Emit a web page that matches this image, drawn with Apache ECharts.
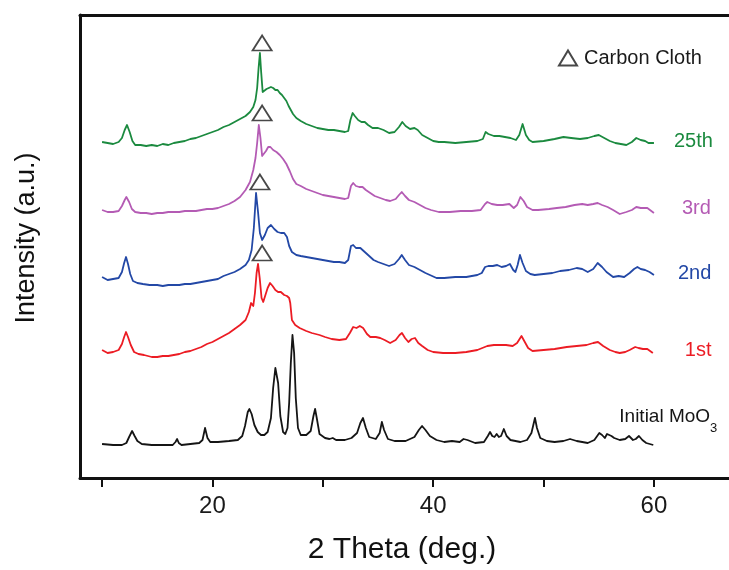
<!DOCTYPE html>
<html>
<head>
<meta charset="utf-8">
<script src="https://cdn.jsdelivr.net/npm/echarts@6/dist/echarts.min.js"></script>
<style>html,body{margin:0;padding:0;background:#fff}#c{width:729px;height:570px}</style>
</head>
<body>
<div id="c"></div>
<script>
// ---- data (2θ in degrees, intensity in arbitrary units, patterns already stacked) ----
const seriesNames = ['Initial MoO3', '1st', '2nd', '3rd', '25th'];
const xTickValues = [10, 20, 30, 40, 50, 60];
const xTickLabels = [20, 40, 60];

const initialMoO3 = [[10.0,34],[11.0,33],[11.8,33],[12.2,35],[12.45,41],[12.72,47],[12.95,42],[13.2,37],[13.6,34],[14.5,33],[15.5,33],[16.4,33],[16.65,36],[16.8,39],[16.95,35],[17.2,33],[18.0,34],[18.8,35],[19.1,38],[19.33,50],[19.55,40],[19.8,36],[20.5,36],[21.5,37],[22.3,38],[22.7,42],[22.95,52],[23.2,66],[23.35,69],[23.55,64],[23.8,53],[24.1,46],[24.4,43],[24.7,43],[25.0,46],[25.3,60],[25.5,90],[25.7,110],[25.8,112],[25.95,95],[26.15,62],[26.4,46],[26.6,44],[26.8,50],[26.95,75],[27.1,115],[27.25,143],[27.4,125],[27.55,80],[27.75,50],[28.0,43],[28.5,43],[28.9,47],[29.15,62],[29.3,69],[29.45,60],[29.7,44],[30.2,40],[30.6,39],[30.9,40],[31.2,38],[32.0,38],[32.6,40],[33.1,45],[33.4,55],[33.64,60],[33.9,50],[34.2,41],[34.8,39],[35.15,45],[35.35,56],[35.55,48],[35.9,39],[36.5,37],[37.5,37],[38.3,41],[38.7,48],[38.99,52],[39.3,48],[39.7,42],[40.3,38],[41.0,36],[41.7,37],[42.4,36],[42.75,39],[42.9,41],[43.1,38],[43.8,35],[44.6,36],[44.95,42],[45.15,46],[45.35,42],[45.55,41],[45.75,44],[45.95,41],[46.15,42],[46.4,49],[46.65,42],[47.0,38],[47.9,36],[48.5,38],[48.9,45],[49.05,52],[49.22,60],[49.4,50],[49.7,40],[50.3,37],[51.0,36],[51.8,37],[52.4,39],[53.0,37],[54.0,35],[54.6,38],[55.05,45],[55.3,43],[55.55,40],[55.75,44],[55.92,46],[56.15,42],[56.4,40],[56.9,38],[57.4,39],[57.74,42],[58.1,38],[58.35,39],[58.64,42],[58.95,38],[59.3,35],[59.94,33]];

const cycle1st = [[10.0,128],[10.5,125],[11.0,126],[11.5,128],[11.8,134],[12.0,141],[12.17,146],[12.35,141],[12.6,133],[12.9,126],[13.3,124],[13.8,123],[14.5,121],[15.0,121],[15.5,122],[16.0,122],[16.5,123],[17.0,124],[17.5,126],[18.0,127],[18.5,129],[19.0,131],[19.5,134],[20.0,136],[20.5,139],[21.0,142],[21.5,145],[22.0,149],[22.5,153],[23.0,158],[23.3,166],[23.5,175],[23.7,172],[23.85,185],[24.0,205],[24.13,214],[24.28,200],[24.45,180],[24.6,176],[24.8,183],[25.0,190],[25.22,195],[25.45,192],[25.7,188],[25.95,186],[26.2,186],[26.5,183],[26.75,182],[26.95,180],[27.05,175],[27.2,158],[27.5,153],[27.9,150],[28.5,147],[29.0,145],[29.7,143],[30.2,141],[30.8,139],[31.5,138],[32.1,139],[32.45,145],[32.75,151],[33.05,150],[33.35,152],[33.65,150],[34.0,144],[34.3,141],[34.8,141],[35.2,140],[35.6,138],[36.1,135],[36.6,138],[36.95,143],[37.17,145],[37.45,140],[37.75,136],[38.05,139],[38.35,140],[38.65,135],[39.0,132],[39.5,128],[40.0,126],[40.9,125],[42.0,125],[43.0,126],[44.0,128],[44.9,132],[45.5,133],[46.0,133],[46.6,133],[47.2,132],[47.6,135],[48.0,142],[48.3,136],[48.6,130],[49.0,127],[50.0,128],[51.0,129],[52.1,131],[53.0,132],[53.9,133],[54.5,135],[54.93,136],[55.4,132],[56.0,128],[56.5,126],[56.9,125],[57.4,126],[57.8,128],[58.3,131],[58.6,130],[59.0,129],[59.4,129],[59.9,125]];

const cycle2nd = [[10.0,201],[10.5,198],[11.0,199],[11.5,200],[11.8,206],[12.0,215],[12.17,221],[12.35,214],[12.55,204],[12.8,197],[13.2,195],[13.7,194],[14.3,193],[15.0,193],[15.5,192],[16.0,193],[16.5,193],[17.0,193],[17.5,194],[18.0,194],[18.5,195],[19.0,196],[19.5,197],[20.0,198],[20.5,199],[21.0,202],[21.5,204],[22.0,206],[22.5,209],[23.0,213],[23.3,218],[23.55,228],[23.75,250],[23.95,285],[24.13,266],[24.3,245],[24.5,238],[24.75,243],[25.0,250],[25.3,253],[25.6,249],[25.9,246],[26.2,245],[26.5,245],[26.75,241],[26.95,232],[27.2,226],[27.6,223],[28.0,222],[28.5,221],[29.0,220],[29.5,219],[30.0,218],[30.5,217],[31.0,216],[31.5,216],[32.0,215],[32.3,218],[32.55,232],[32.75,233],[33.0,230],[33.4,230],[33.8,226],[34.2,222],[34.6,218],[35.0,216],[35.5,214],[36.0,212],[36.5,214],[36.9,219],[37.15,223],[37.45,218],[37.8,213],[38.3,211],[38.8,208],[39.3,205],[39.7,203],[40.3,200],[41.0,200],[42.0,201],[43.0,201],[44.0,203],[44.4,205],[44.7,211],[45.0,212],[45.4,212],[45.8,213],[46.2,211],[46.6,212],[46.95,214],[47.25,208],[47.45,206],[47.65,213],[47.86,223],[48.1,215],[48.4,207],[48.8,204],[49.2,203],[50.0,204],[50.8,205],[51.5,207],[52.3,208],[53.0,210],[53.5,209],[54.0,206],[54.5,209],[54.9,215],[55.3,211],[55.7,206],[56.3,201],[56.8,202],[57.3,201],[57.8,205],[58.2,209],[58.5,211],[58.8,209],[59.2,208],[59.6,206],[60.0,203]];

const cycle3rd = [[10.0,268],[10.5,266],[11.0,266],[11.5,267],[11.8,272],[12.05,278],[12.2,281],[12.45,276],[12.7,269],[13.0,266],[13.5,265],[14.0,265],[14.5,264],[15.0,265],[15.5,265],[16.0,266],[16.5,266],[17.0,266],[17.5,267],[18.0,267],[18.5,267],[19.0,268],[19.5,269],[20.0,269],[20.5,270],[21.0,272],[21.5,274],[22.0,277],[22.5,281],[23.0,288],[23.4,296],[23.7,308],[23.9,320],[24.05,335],[24.2,353],[24.35,340],[24.5,322],[24.65,320],[24.85,327],[25.05,331],[25.25,331],[25.5,328],[25.8,326],[26.1,323],[26.4,319],[26.7,314],[27.0,307],[27.3,299],[27.6,294],[28.0,292],[28.5,289],[29.0,287],[29.5,285],[30.0,283],[30.5,282],[31.0,281],[31.5,280],[32.0,279],[32.3,280],[32.55,292],[32.75,295],[33.0,292],[33.3,291],[33.6,291],[33.9,288],[34.3,285],[34.7,282],[35.2,280],[35.7,278],[36.1,277],[36.6,279],[36.9,283],[37.15,286],[37.45,282],[37.8,278],[38.3,276],[38.8,273],[39.3,270],[39.8,268],[40.5,266],[41.5,266],[42.5,267],[43.5,267],[44.3,268],[44.7,274],[44.9,276],[45.3,274],[45.8,273],[46.3,273],[46.9,274],[47.3,270],[47.6,273],[47.9,281],[48.2,277],[48.5,271],[49.0,268],[49.5,268],[50.5,269],[51.2,270],[52.0,271],[52.8,273],[53.5,274],[54.0,273],[54.5,274],[54.9,275],[55.3,273],[55.8,271],[56.3,268],[56.9,264],[57.5,266],[58.0,268],[58.4,271],[58.8,270],[59.4,270],[60.0,265]];

const cycle25th = [[10.0,336],[10.5,335],[11.0,334],[11.5,336],[11.8,340],[12.05,348],[12.26,353],[12.5,346],[12.75,337],[13.0,333],[13.5,333],[14.0,332],[14.5,333],[15.0,332],[15.5,334],[16.0,333],[16.5,335],[17.0,336],[17.5,337],[18.0,339],[18.5,340],[19.0,342],[19.5,344],[20.0,346],[20.5,348],[21.0,351],[21.5,353],[22.0,356],[22.5,359],[23.0,362],[23.4,366],[23.7,371],[23.9,378],[24.05,390],[24.18,410],[24.3,425],[24.42,405],[24.55,386],[24.7,386],[24.9,389],[25.1,390],[25.3,391],[25.5,390],[25.7,388],[25.9,388],[26.1,385],[26.3,383],[26.5,380],[26.7,377],[26.9,372],[27.1,368],[27.3,364],[27.6,360],[28.0,357],[28.5,354],[29.0,352],[29.5,350],[30.0,349],[30.5,348],[31.0,348],[31.5,347],[32.0,346],[32.3,347],[32.5,358],[32.7,365],[32.9,362],[33.2,358],[33.5,356],[33.8,356],[34.1,353],[34.5,350],[35.0,350],[35.5,348],[36.0,345],[36.5,346],[36.9,351],[37.2,356],[37.5,352],[37.9,349],[38.3,350],[38.6,348],[39.0,343],[39.5,340],[40.0,337],[40.5,336],[41.0,336],[42.0,335],[43.0,336],[44.0,337],[44.5,339],[44.75,346],[45.0,344],[45.5,342],[46.0,342],[46.5,341],[47.0,340],[47.5,338],[47.8,343],[48.1,354],[48.4,343],[48.7,338],[49.0,336],[50.0,337],[51.0,339],[51.8,341],[52.5,340],[53.3,339],[54.0,340],[54.6,342],[55.0,343],[55.5,340],[56.0,337],[56.5,335],[57.0,334],[57.5,333],[58.0,336],[58.4,340],[58.8,338],[59.2,337],[59.5,335],[60.0,335]];

// carbon cloth reflection markers (2θ, intensity)
const carbonClothX = [24.5, 24.5, 24.3, 24.5];
const carbonClothY = [435, 365, 296, 225];

// ---- chart ----
const FONT = "'Liberation Sans', Arial, Helvetica, sans-serif";
const colors = ['#151515', '#ec1c24', '#2348a6', '#b45bb4', '#1b8a3f'];
const labelOffsets = [[-34, -28], [32, -3], [24, -2], [28, -5], [20, -2]];
const patterns = [initialMoO3, cycle1st, cycle2nd, cycle3rd, cycle25th];

const chart = echarts.init(document.getElementById('c'), null, {renderer: 'canvas'});

const lineSeries = patterns.map((d, i) => ({
  name: seriesNames[i],
  type: 'line',
  data: d,
  symbol: 'none',
  showSymbol: false,
  lineStyle: {color: colors[i], width: 1.8, join: 'round'},
  itemStyle: {color: colors[i]},
  z: 2 + i,
  endLabel: {
    show: true,
    distance: 0,
    offset: labelOffsets[i],
    align: 'left',
    verticalAlign: 'middle',
    fontFamily: FONT,
    fontSize: 20,
    color: colors[i],
    formatter: i === 0 ? '{n|Initial MoO}{s|3}' : '{a}',
    rich: i === 0 ? {
      n: {fontFamily: FONT, fontSize: 19, color: '#151515', lineHeight: 24, verticalAlign: 'middle'},
      s: {fontFamily: FONT, fontSize: 13, color: '#151515', lineHeight: 14, verticalAlign: 'bottom', padding: [0, 0, -6, 0]}
    } : undefined
  }
}));

const ccSeries = {
  name: 'Carbon Cloth',
  type: 'scatter',
  data: carbonClothX.map((x, i) => [x, carbonClothY[i]]),
  symbol: 'triangle',
  symbolSize: [19, 15],
  itemStyle: {color: '#ffffff', borderColor: '#1a1a1a', borderWidth: 1.8},
  z: 10
};

const axisLineStyle = {color: '#111', width: 3};

chart.setOption({
  animation: false,
  backgroundColor: '#ffffff',
  grid: {left: 80, right: 0, top: 15, bottom: 92},
  legend: {
    data: ['Carbon Cloth'],
    left: 553, top: 43,
    icon: 'triangle',
    itemWidth: 18, itemHeight: 15,
    textStyle: {fontFamily: FONT, fontSize: 20, color: '#1a1a1a', padding: [0, 0, 0, 2]}
  },
  xAxis: [{
    type: 'value', min: 8, max: 66.8, position: 'bottom',
    axisLine: {show: true, onZero: false, lineStyle: axisLineStyle},
    axisTick: {show: true, customValues: xTickValues, length: 9, lineStyle: {color: '#111', width: 2}},
    axisLabel: {show: true, customValues: xTickLabels, fontFamily: FONT, fontSize: 24, color: '#1a1a1a', margin: 16},
    splitLine: {show: false}
  }, {
    type: 'value', min: 8, max: 66.8, position: 'top',
    axisLine: {show: true, onZero: false, lineStyle: axisLineStyle},
    axisTick: {show: false}, axisLabel: {show: false}, splitLine: {show: false}
  }],
  yAxis: {
    type: 'value', min: 0, max: 463,
    axisLine: {show: true, onZero: false, lineStyle: axisLineStyle},
    axisTick: {show: false}, axisLabel: {show: false}, splitLine: {show: false}
  },
  graphic: [
    {type: 'text', x: 402, y: 550, style: {text: '2 Theta (deg.)', font: '30px ' + FONT, fill: '#111', align: 'center', verticalAlign: 'middle'}},
    {type: 'text', x: 27, y: 238, rotation: Math.PI / 2, style: {text: 'Intensity (a.u.)', font: '27px ' + FONT, fill: '#111', align: 'center', verticalAlign: 'middle'}}
  ],
  series: lineSeries.concat([ccSeries])
});
</script>
</body>
</html>
